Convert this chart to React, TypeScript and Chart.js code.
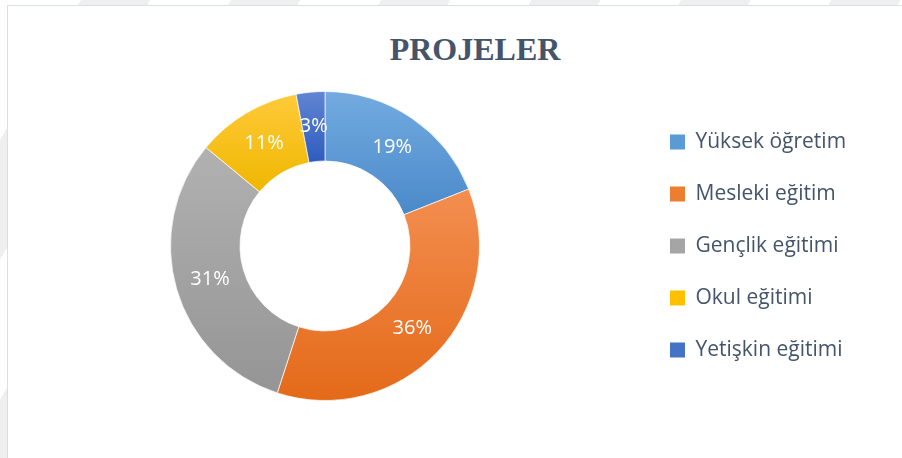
import React, { useEffect, useRef } from "react";
import { Chart, registerables } from "chart.js";

Chart.register(...registerables);

const categories = ["Yüksek öğretim", "Mesleki eğitim", "Gençlik eğitimi", "Okul eğitimi", "Yetişkin eğitimi"];
const values = [19, 36, 31, 11, 3];
const baseColors = ["#5B9BD5", "#ED7D31", "#A5A5A5", "#FFC000", "#4472C4"];
const gradientTop = ["#73ABE0", "#F38E50", "#B1B1B1", "#FFCA3A", "#6185D3"];
const gradientBottom = ["#4A89C9", "#E46A19", "#959595", "#EFB700", "#2E5CBE"];
const titleText = "PROJELER";

const W = 902;
const H = 458;
const LEGEND_FONT = { family: "'Open Sans', sans-serif", size: 21 };
const LEGEND_PAD = 31;
const BOX = 15;

const gradientPlugin = {
  id: "sliceGradients",
  beforeDatasetsDraw(chart: any) {
    const ctx = chart.ctx;
    const meta = chart.getDatasetMeta(0);
    meta.data.forEach((el: any, i: number) => {
      const { x, y, startAngle, endAngle, innerRadius, outerRadius } = el.getProps(
        ["x", "y", "startAngle", "endAngle", "innerRadius", "outerRadius"],
        true
      );
      let minY = Infinity;
      let maxY = -Infinity;
      const steps = 60;
      for (let s = 0; s <= steps; s++) {
        const a = startAngle + ((endAngle - startAngle) * s) / steps;
        for (const r of [innerRadius, outerRadius]) {
          const yy = y + Math.sin(a) * r;
          if (yy < minY) minY = yy;
          if (yy > maxY) maxY = yy;
        }
      }
      const g = ctx.createLinearGradient(0, minY, 0, maxY);
      g.addColorStop(0, gradientTop[i]);
      g.addColorStop(1, gradientBottom[i]);
      el.options = { ...el.options, backgroundColor: g };
    });
  },
};

const labelPlugin = {
  id: "sliceLabels",
  afterDatasetsDraw(chart: any) {
    const ctx = chart.ctx;
    const meta = chart.getDatasetMeta(0);
    const data = chart.data.datasets[0].data as number[];
    const total = data.reduce((a, b) => a + b, 0);
    ctx.save();
    ctx.fillStyle = "#FFFFFF";
    ctx.font = "20px 'Open Sans', sans-serif";
    ctx.textAlign = "center";
    ctx.textBaseline = "middle";
    meta.data.forEach((el: any, i: number) => {
      const p = el.getCenterPoint();
      const pct = Math.round((data[i] / total) * 100);
      ctx.fillText(pct + "%", p.x, p.y);
    });
    ctx.restore();
  },
};

export default function App() {
  const canvasRef = useRef<HTMLCanvasElement | null>(null);

  useEffect(() => {
    const canvas = canvasRef.current;
    if (!canvas) return;
    // measure legend text to place the legend box
    const mctx = document.createElement("canvas").getContext("2d")!;
    mctx.font = `${LEGEND_FONT.size}px ${LEGEND_FONT.family}`;
    const maxText = Math.max(...categories.map((c) => mctx.measureText(c).width));
    const colWidth = BOX + LEGEND_FONT.size / 2 + maxText;
    const legendWidth = LEGEND_PAD + colWidth + 10;
    const legendLeft = 670 - LEGEND_PAD;
    const padRight = W - legendLeft - legendWidth;
    const padLeft = 2 * 325 - legendLeft;

    const chart = new Chart(canvas, {
      type: "doughnut",
      data: {
        labels: categories,
        datasets: [
          {
            data: values,
            backgroundColor: baseColors,
            borderColor: "rgba(255,255,255,0.7)",
            borderWidth: 1,
          },
        ],
      },
      options: {
        responsive: false,
        animation: false,
        cutout: "55%",
        layout: { padding: { left: padLeft, top: 91, bottom: 57, right: padRight } },
        plugins: {
          title: { display: false },
          tooltip: { enabled: false },
          legend: {
            position: "right",
            labels: {
              boxWidth: BOX,
              boxHeight: BOX,
              padding: LEGEND_PAD,
              color: "#44546A",
              font: LEGEND_FONT,
              generateLabels: (ch: any) =>
                ch.data.labels.map((l: string, i: number) => ({
                  text: l,
                  fillStyle: baseColors[i],
                  strokeStyle: "rgba(0,0,0,0)",
                  lineWidth: 0,
                  hidden: false,
                  index: i,
                  fontColor: "#44546A",
                })),
            },
          },
        },
      },
      plugins: [gradientPlugin, labelPlugin],
    });
    return () => chart.destroy();
  }, []);

  return (
    <div
      style={{
        position: "absolute",
        left: 0,
        top: 0,
        width: W,
        height: H,
        overflow: "hidden",
        background:
          "repeating-linear-gradient(120deg, #ffffff 0px, #ffffff 70px, #efefef 70px, #efefef 130px)",
      }}
    >
      <div
        style={{
          position: "absolute",
          left: 7,
          top: 5,
          width: W,
          height: H + 10,
          border: "1.5px solid #D9DFE7",
          background: "#FFFFFF",
        }}
      />
      <div
        style={{
          position: "absolute",
          left: 0,
          top: 33,
          width: 950,
          textAlign: "center",
          fontFamily: "'Liberation Serif', 'Times New Roman', serif",
          fontWeight: "bold",
          fontSize: 32,
          lineHeight: "32px",
          color: "#44546A",
        }}
      >
        {titleText}
      </div>
      <canvas
        ref={canvasRef}
        width={W}
        height={H}
        style={{ position: "absolute", left: 0, top: 0, width: W, height: H }}
      />
    </div>
  );
}
